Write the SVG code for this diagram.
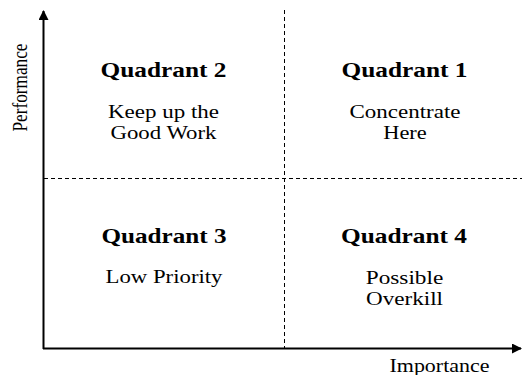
<svg xmlns="http://www.w3.org/2000/svg" width="526" height="375" viewBox="0 0 526 375">
<style>
text{font-family:'Liberation Serif','Times New Roman',Times,serif;fill:#000;text-anchor:middle}
.h{font-size:21px;font-weight:bold}
.b{font-size:19px}
.ax{font-size:18px}
.axis{stroke:#000;stroke-width:2;fill:none}
.dash{stroke:#000;stroke-width:1;stroke-dasharray:4 3;fill:none}
</style>
<defs>
<marker id="arr" viewBox="0 0 10 10" refX="9" refY="5" markerWidth="5" markerHeight="5" orient="auto" markerUnits="strokeWidth">
<path d="M0,0 L10,5 L0,10 Z" fill="#000"/>
</marker>
</defs>
<rect width="526" height="375" fill="#fff"/>
<g id="connectors">
<line class="dash" x1="284.5" y1="10" x2="284.5" y2="348"/>
<line class="dash" x1="44" y1="178.5" x2="522" y2="178.5"/>
<line class="axis" x1="43.5" y1="349" x2="43.5" y2="11" marker-end="url(#arr)"/>
<line class="axis" x1="43" y1="348.5" x2="521" y2="348.5" marker-end="url(#arr)"/>
</g>
<g id="axis-y"><text class="ax" transform="translate(27,87.5) rotate(-90)" textLength="88" lengthAdjust="spacingAndGlyphs" style="font-size:20px">Performance</text></g>
<g id="axis-x"><text class="ax" x="439.5" y="371.5" textLength="100" lengthAdjust="spacingAndGlyphs">Importance</text></g>
<g id="quadrant2">
<text class="h" x="163.5" y="77" textLength="126" lengthAdjust="spacingAndGlyphs">Quadrant 2</text>
<text class="b" x="163.5" y="118.3" textLength="111" lengthAdjust="spacingAndGlyphs">Keep up the</text>
<text class="b" x="163.5" y="139" textLength="106" lengthAdjust="spacingAndGlyphs">Good Work</text>
</g>
<g id="quadrant1">
<text class="h" x="404.5" y="77" textLength="126" lengthAdjust="spacingAndGlyphs">Quadrant 1</text>
<text class="b" x="405" y="118.3" textLength="111" lengthAdjust="spacingAndGlyphs">Concentrate</text>
<text class="b" x="405" y="138.5" textLength="43.5" lengthAdjust="spacingAndGlyphs">Here</text>
</g>
<g id="quadrant3">
<text class="h" x="164" y="243" textLength="125" lengthAdjust="spacingAndGlyphs">Quadrant 3</text>
<text class="b" x="164" y="283.3" textLength="117" lengthAdjust="spacingAndGlyphs">Low Priority</text>
</g>
<g id="quadrant4">
<text class="h" x="404" y="243.3" textLength="126" lengthAdjust="spacingAndGlyphs">Quadrant 4</text>
<text class="b" x="404.5" y="284" textLength="77.5" lengthAdjust="spacingAndGlyphs">Possible</text>
<text class="b" x="404.5" y="305" textLength="77" lengthAdjust="spacingAndGlyphs">Overkill</text>
</g>
</svg>
